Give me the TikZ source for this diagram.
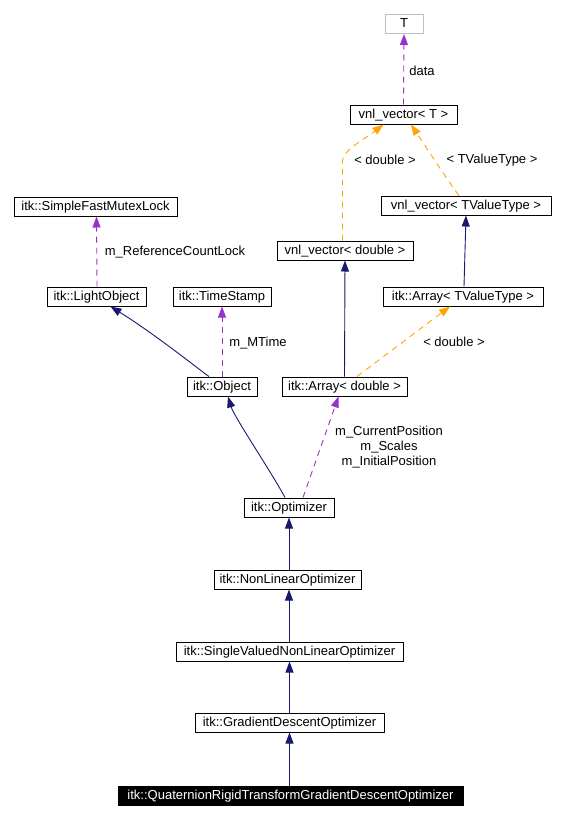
\documentclass[tikz,border=0pt]{standalone}
\usepackage{fontspec}
\setmainfont{Liberation Sans}
\usetikzlibrary{arrows.meta}
\definecolor{navyc}{RGB}{25,25,112}
\definecolor{purpc}{RGB}{153,50,204}
\definecolor{orngc}{RGB}{255,165,0}
\definecolor{grayc}{RGB}{191,191,191}
\tikzset{
  cls/.style={draw=black, line width=1pt, fill=white, inner sep=0pt, minimum height=19pt, font=\fontsize{13pt}{14pt}\selectfont, text height=9.5pt, text depth=2.5pt},
  inh/.style={navyc, line width=0.9pt, -{Triangle[length=11pt,width=8pt]}},
  usep/.style={purpc, line width=0.9pt, dash pattern=on 6pt off 5pt, -{Triangle[length=11pt,width=8pt]}},
  tmpl/.style={orngc, line width=0.9pt, dash pattern=on 6pt off 5pt, -{Triangle[length=11pt,width=8pt]}},
  lbl/.style={font=\fontsize{13pt}{15pt}\selectfont, inner sep=0pt, align=center}
}
\begin{document}
\begin{tikzpicture}[x=1pt,y=1pt]
\useasboundingbox (0,0) rectangle (585,-819);
\node[cls, draw=grayc, minimum width=38pt] (T) at (404,-24) {T};
\node[cls, minimum width=107pt] (vT) at (403.5,-114.5) {vnl\_vector< T >};
\node[cls, minimum width=170pt] (vTV) at (466,-205.5) {vnl\_vector< TValueType >};
\node[cls, minimum width=163pt] (SFML) at (95.5,-206.5) {itk::SimpleFastMutexLock};
\node[cls, minimum width=136pt] (vD) at (345,-250.5) {vnl\_vector< double >};
\node[cls, minimum width=99pt] (LO) at (96.5,-296.5) {itk::LightObject};
\node[cls, minimum width=98pt] (TS) at (222,-296.5) {itk::TimeStamp};
\node[cls, minimum width=160pt] (ATV) at (463,-296.5) {itk::Array< TValueType >};
\node[cls, minimum width=70pt] (Obj) at (222,-386.5) {itk::Object};
\node[cls, minimum width=125pt] (AD) at (344.5,-386.5) {itk::Array< double >};
\node[cls, minimum width=90pt] (Opt) at (289,-507.5) {itk::Optimizer};
\node[cls, minimum width=147pt] (NLO) at (287.5,-579.5) {itk::NonLinearOptimizer};
\node[cls, minimum width=227pt] (SVNLO) at (289.5,-651.5) {itk::SingleValuedNonLinearOptimizer};
\node[cls, minimum width=189pt] (GDO) at (289.5,-722.5) {itk::GradientDescentOptimizer};
\node[cls, fill=black, text=white, minimum width=345pt] (Q) at (290.5,-795.5) {itk::QuaternionRigidTransformGradientDescentOptimizer};

\draw[usep] (vT.north) -- (T.south);
\node[lbl] (ldata) at (422,-71) {data};
\draw[tmpl] ([xshift=-2.5pt]vD.north) -- ++(0,80) .. controls +(0,10) and +(-18,-14) .. ([xshift=-20pt]vT.south);
\node[lbl] (ld1) at (385,-160) {< double >};
\draw[tmpl] ([xshift=-7pt]vTV.north) .. controls +(-8,10) and +(12,-18) .. ([xshift=7.5pt]vT.south);
\node[lbl] (ltv) at (492,-160) {< TValueType >};
\draw[inh] ([xshift=1pt]ATV.north) -- (vTV.south);
\draw[usep] ([xshift=0.5pt]LO.north) -- ([xshift=1pt]SFML.south);
\node[lbl] (lrc) at (175,-252) {m\_ReferenceCountLock};
\draw[inh] ([xshift=-13pt]Obj.north) .. controls +(-10,7) and +(45,-28) .. ([xshift=14pt]LO.south);
\draw[usep] (Obj.north) -- (TS.south);
\node[lbl] (lmt) at (258,-343) {m\_MTime};
\draw[inh] (AD.north) -- (vD.south);
\draw[tmpl] ([xshift=12.5pt]AD.north) -- ([xshift=-13pt]ATV.south);
\node[lbl] (ld2) at (454,-342) {< double >};
\draw[inh] ([xshift=-4pt]Opt.north) .. controls +(-14,26) and +(6,-20) .. ([xshift=6pt]Obj.south);
\draw[usep] ([xshift=14pt]Opt.north) -- ([xshift=-6pt]AD.south);
\node[lbl] (lcp) at (389,-447) {m\_CurrentPosition\\m\_Scales\\m\_InitialPosition};
\draw[inh] ([xshift=1.5pt]NLO.north) -- (Opt.south);
\draw[inh] ([xshift=-0.5pt]SVNLO.north) -- ([xshift=1.5pt]NLO.south);
\draw[inh] (GDO.north) -- (SVNLO.south);
\draw[inh] ([xshift=-1pt]Q.north) -- (GDO.south);
\end{tikzpicture}
\end{document}
